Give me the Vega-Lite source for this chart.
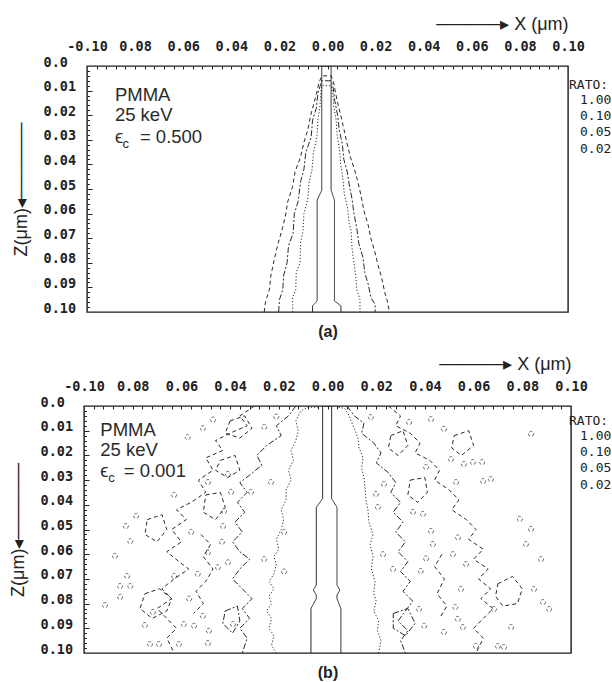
{
  "$schema": "https://vega.github.io/schema/vega-lite/v6.json",
  "background": "white",
  "padding": {"left": 8, "top": 14, "right": 0, "bottom": 0},
  "spacing": 94,
  "bounds": "flush",
  "center": true,
  "resolve": {"scale": {"x": "independent", "y": "independent", "strokeDash": "independent"}},
  "config": {
    "view": {"stroke": "#1a1a1a", "strokeWidth": 1.4},
    "axis": {
      "labelFont": "DejaVu Sans Mono", "labelFontWeight": "bold", "labelFontSize": 13.5, "labelColor": "#222",
      "tickColor": "#222", "tickWidth": 1, "domain": false, "grid": false, "labelFlush": false, "labelOverlap": false,
      "titleFont": "Liberation Sans", "titleFontWeight": "normal", "titleColor": "#222", "titleFontSize": 18
    }
  },
  "datasets": {
    "ca": [
      {"g":"s","r":"1.00","x":-0.0062,"z":0.1},{"g":"s","r":"1.00","x":-0.0062,"z":0.0975},{"g":"s","r":"1.00","x":-0.0043,"z":0.0955},{"g":"s","r":"1.00","x":-0.0043,"z":0.0545},{"g":"s","r":"1.00","x":-0.0024,"z":0.0505},{"g":"s","r":"1.00","x":-0.0024,"z":0},{"g":"s","r":"1.00","x":0.0015,"z":0},{"g":"s","r":"1.00","x":0.0015,"z":0.0505},{"g":"s","r":"1.00","x":0.0029,"z":0.0545},{"g":"s","r":"1.00","x":0.0029,"z":0.0955},{"g":"s","r":"1.00","x":0.0056,"z":0.0975},{"g":"s","r":"1.00","x":0.0056,"z":0.1},

      {"g":"d","r":"0.10","x":-0.0145,"z":0.1},{"g":"d","r":"0.10","x":-0.0145,"z":0.094},{"g":"d","r":"0.10","x":-0.0132,"z":0.091},{"g":"d","r":"0.10","x":-0.013,"z":0.084},{"g":"d","r":"0.10","x":-0.0114,"z":0.08},{"g":"d","r":"0.10","x":-0.0112,"z":0.072},{"g":"d","r":"0.10","x":-0.0102,"z":0.067},{"g":"d","r":"0.10","x":-0.0098,"z":0.06},{"g":"d","r":"0.10","x":-0.0082,"z":0.054},{"g":"d","r":"0.10","x":-0.0076,"z":0.047},{"g":"d","r":"0.10","x":-0.0064,"z":0.042},{"g":"d","r":"0.10","x":-0.0058,"z":0.035},{"g":"d","r":"0.10","x":-0.0044,"z":0.029},{"g":"d","r":"0.10","x":-0.004,"z":0.022},{"g":"d","r":"0.10","x":-0.0031,"z":0.016},{"g":"d","r":"0.10","x":-0.0028,"z":0.011},{"g":"d","r":"0.10","x":-0.0024,"z":0.008},
      {"g":"d","r":"0.10","x":0.0015,"z":0.008},{"g":"d","r":"0.10","x":0.0022,"z":0.011},{"g":"d","r":"0.10","x":0.0027,"z":0.017},{"g":"d","r":"0.10","x":0.0036,"z":0.022},{"g":"d","r":"0.10","x":0.004,"z":0.028},{"g":"d","r":"0.10","x":0.005,"z":0.034},{"g":"d","r":"0.10","x":0.0055,"z":0.04},{"g":"d","r":"0.10","x":0.0064,"z":0.046},{"g":"d","r":"0.10","x":0.007,"z":0.052},{"g":"d","r":"0.10","x":0.0084,"z":0.058},{"g":"d","r":"0.10","x":0.009,"z":0.064},{"g":"d","r":"0.10","x":0.0098,"z":0.067},{"g":"d","r":"0.10","x":0.0102,"z":0.074},{"g":"d","r":"0.10","x":0.011,"z":0.08},{"g":"d","r":"0.10","x":0.0118,"z":0.086},{"g":"d","r":"0.10","x":0.0122,"z":0.091},{"g":"d","r":"0.10","x":0.0135,"z":0.095},{"g":"d","r":"0.10","x":0.0135,"z":0.1},

      {"g":"dd","r":"0.05","x":-0.0203,"z":0.1},{"g":"dd","r":"0.05","x":-0.02,"z":0.095},{"g":"dd","r":"0.05","x":-0.0186,"z":0.091},{"g":"dd","r":"0.05","x":-0.0182,"z":0.085},{"g":"dd","r":"0.05","x":-0.0168,"z":0.08},{"g":"dd","r":"0.05","x":-0.0162,"z":0.073},{"g":"dd","r":"0.05","x":-0.0143,"z":0.068},{"g":"dd","r":"0.05","x":-0.0138,"z":0.06},{"g":"dd","r":"0.05","x":-0.0122,"z":0.055},{"g":"dd","r":"0.05","x":-0.0112,"z":0.047},{"g":"dd","r":"0.05","x":-0.0098,"z":0.042},{"g":"dd","r":"0.05","x":-0.009,"z":0.035},{"g":"dd","r":"0.05","x":-0.0068,"z":0.029},{"g":"dd","r":"0.05","x":-0.0062,"z":0.022},{"g":"dd","r":"0.05","x":-0.0046,"z":0.017},{"g":"dd","r":"0.05","x":-0.004,"z":0.011},{"g":"dd","r":"0.05","x":-0.003,"z":0.008},{"g":"dd","r":"0.05","x":-0.0024,"z":0.006},
      {"g":"dd","r":"0.05","x":0.0015,"z":0.006},{"g":"dd","r":"0.05","x":0.0024,"z":0.009},{"g":"dd","r":"0.05","x":0.003,"z":0.014},{"g":"dd","r":"0.05","x":0.0042,"z":0.02},{"g":"dd","r":"0.05","x":0.0049,"z":0.026},{"g":"dd","r":"0.05","x":0.0062,"z":0.032},{"g":"dd","r":"0.05","x":0.0068,"z":0.038},{"g":"dd","r":"0.05","x":0.0082,"z":0.043},{"g":"dd","r":"0.05","x":0.009,"z":0.048},{"g":"dd","r":"0.05","x":0.0102,"z":0.054},{"g":"dd","r":"0.05","x":0.011,"z":0.06},{"g":"dd","r":"0.05","x":0.0122,"z":0.066},{"g":"dd","r":"0.05","x":0.013,"z":0.072},{"g":"dd","r":"0.05","x":0.0148,"z":0.078},{"g":"dd","r":"0.05","x":0.0155,"z":0.084},{"g":"dd","r":"0.05","x":0.017,"z":0.089},{"g":"dd","r":"0.05","x":0.018,"z":0.094},{"g":"dd","r":"0.05","x":0.0198,"z":0.097},{"g":"dd","r":"0.05","x":0.0198,"z":0.1},

      {"g":"da","r":"0.02","x":-0.0263,"z":0.1},{"g":"da","r":"0.02","x":-0.0258,"z":0.096},{"g":"da","r":"0.02","x":-0.0242,"z":0.091},{"g":"da","r":"0.02","x":-0.0235,"z":0.085},{"g":"da","r":"0.02","x":-0.0222,"z":0.079},{"g":"da","r":"0.02","x":-0.0208,"z":0.073},{"g":"da","r":"0.02","x":-0.019,"z":0.067},{"g":"da","r":"0.02","x":-0.0175,"z":0.061},{"g":"da","r":"0.02","x":-0.0165,"z":0.055},{"g":"da","r":"0.02","x":-0.0145,"z":0.049},{"g":"da","r":"0.02","x":-0.0135,"z":0.043},{"g":"da","r":"0.02","x":-0.0112,"z":0.037},{"g":"da","r":"0.02","x":-0.0098,"z":0.031},{"g":"da","r":"0.02","x":-0.0082,"z":0.026},{"g":"da","r":"0.02","x":-0.007,"z":0.02},{"g":"da","r":"0.02","x":-0.0056,"z":0.015},{"g":"da","r":"0.02","x":-0.0045,"z":0.011},{"g":"da","r":"0.02","x":-0.0036,"z":0.007},{"g":"da","r":"0.02","x":-0.0024,"z":0.004},
      {"g":"da","r":"0.02","x":0.0015,"z":0.004},{"g":"da","r":"0.02","x":0.0024,"z":0.006},{"g":"da","r":"0.02","x":0.0032,"z":0.01},{"g":"da","r":"0.02","x":0.0042,"z":0.015},{"g":"da","r":"0.02","x":0.0055,"z":0.02},{"g":"da","r":"0.02","x":0.0069,"z":0.026},{"g":"da","r":"0.02","x":0.008,"z":0.031},{"g":"da","r":"0.02","x":0.0095,"z":0.037},{"g":"da","r":"0.02","x":0.0112,"z":0.042},{"g":"da","r":"0.02","x":0.0126,"z":0.047},{"g":"da","r":"0.02","x":0.014,"z":0.053},{"g":"da","r":"0.02","x":0.0152,"z":0.059},{"g":"da","r":"0.02","x":0.017,"z":0.065},{"g":"da","r":"0.02","x":0.018,"z":0.07},{"g":"da","r":"0.02","x":0.0198,"z":0.076},{"g":"da","r":"0.02","x":0.021,"z":0.081},{"g":"da","r":"0.02","x":0.0225,"z":0.086},{"g":"da","r":"0.02","x":0.0238,"z":0.092},{"g":"da","r":"0.02","x":0.025,"z":0.096},{"g":"da","r":"0.02","x":0.0257,"z":0.1}
    ],
    "cb": [
      {"g":"s","r":"1.00","x":-0.0068,"z":0.1},{"g":"s","r":"1.00","x":-0.0068,"z":0.082},{"g":"s","r":"1.00","x":-0.0046,"z":0.078},{"g":"s","r":"1.00","x":-0.0046,"z":0.0765},{"g":"s","r":"1.00","x":-0.0058,"z":0.0745},{"g":"s","r":"1.00","x":-0.0046,"z":0.0725},{"g":"s","r":"1.00","x":-0.0046,"z":0.041},{"g":"s","r":"1.00","x":-0.002,"z":0.0375},{"g":"s","r":"1.00","x":-0.002,"z":0},{"g":"s","r":"1.00","x":0.0017,"z":0},{"g":"s","r":"1.00","x":0.0017,"z":0.0375},{"g":"s","r":"1.00","x":0.0039,"z":0.041},{"g":"s","r":"1.00","x":0.0039,"z":0.0725},{"g":"s","r":"1.00","x":0.0051,"z":0.0745},{"g":"s","r":"1.00","x":0.0039,"z":0.0765},{"g":"s","r":"1.00","x":0.0039,"z":0.078},{"g":"s","r":"1.00","x":0.0055,"z":0.082},{"g":"s","r":"1.00","x":0.0055,"z":0.1},

      {"g":"dL","r":"0.10","x":-0.021,"z":0.1},{"g":"dL","r":"0.10","x":-0.023,"z":0.097},{"g":"dL","r":"0.10","x":-0.022,"z":0.093},{"g":"dL","r":"0.10","x":-0.024,"z":0.09},{"g":"dL","r":"0.10","x":-0.023,"z":0.086},{"g":"dL","r":"0.10","x":-0.025,"z":0.083},{"g":"dL","r":"0.10","x":-0.023,"z":0.08},{"g":"dL","r":"0.10","x":-0.024,"z":0.077},{"g":"dL","r":"0.10","x":-0.022,"z":0.074},{"g":"dL","r":"0.10","x":-0.024,"z":0.071},{"g":"dL","r":"0.10","x":-0.022,"z":0.068},{"g":"dL","r":"0.10","x":-0.021,"z":0.064},{"g":"dL","r":"0.10","x":-0.022,"z":0.061},{"g":"dL","r":"0.10","x":-0.02,"z":0.058},{"g":"dL","r":"0.10","x":-0.021,"z":0.054},{"g":"dL","r":"0.10","x":-0.019,"z":0.05},{"g":"dL","r":"0.10","x":-0.018,"z":0.046},{"g":"dL","r":"0.10","x":-0.019,"z":0.042},{"g":"dL","r":"0.10","x":-0.017,"z":0.038},{"g":"dL","r":"0.10","x":-0.017,"z":0.034},{"g":"dL","r":"0.10","x":-0.015,"z":0.03},{"g":"dL","r":"0.10","x":-0.016,"z":0.026},{"g":"dL","r":"0.10","x":-0.014,"z":0.022},{"g":"dL","r":"0.10","x":-0.015,"z":0.018},{"g":"dL","r":"0.10","x":-0.013,"z":0.014},{"g":"dL","r":"0.10","x":-0.012,"z":0.01},{"g":"dL","r":"0.10","x":-0.013,"z":0.006},{"g":"dL","r":"0.10","x":-0.011,"z":0.002},{"g":"dL","r":"0.10","x":-0.008,"z":0.0005},{"g":"dL","r":"0.10","x":-0.004,"z":0.0005},

      {"g":"dR","r":"0.10","x":0.0045,"z":0.0005},{"g":"dR","r":"0.10","x":0.007,"z":0.001},{"g":"dR","r":"0.10","x":0.009,"z":0.004},{"g":"dR","r":"0.10","x":0.0096,"z":0.006},{"g":"dR","r":"0.10","x":0.011,"z":0.009},{"g":"dR","r":"0.10","x":0.0125,"z":0.013},{"g":"dR","r":"0.10","x":0.013,"z":0.017},{"g":"dR","r":"0.10","x":0.0146,"z":0.021},{"g":"dR","r":"0.10","x":0.014,"z":0.025},{"g":"dR","r":"0.10","x":0.015,"z":0.029},{"g":"dR","r":"0.10","x":0.0155,"z":0.034},{"g":"dR","r":"0.10","x":0.0158,"z":0.038},{"g":"dR","r":"0.10","x":0.0166,"z":0.042},{"g":"dR","r":"0.10","x":0.017,"z":0.047},{"g":"dR","r":"0.10","x":0.0187,"z":0.052},{"g":"dR","r":"0.10","x":0.0175,"z":0.056},{"g":"dR","r":"0.10","x":0.0187,"z":0.061},{"g":"dR","r":"0.10","x":0.018,"z":0.066},{"g":"dR","r":"0.10","x":0.0195,"z":0.071},{"g":"dR","r":"0.10","x":0.019,"z":0.076},{"g":"dR","r":"0.10","x":0.02,"z":0.079},{"g":"dR","r":"0.10","x":0.019,"z":0.083},{"g":"dR","r":"0.10","x":0.021,"z":0.087},{"g":"dR","r":"0.10","x":0.0205,"z":0.091},{"g":"dR","r":"0.10","x":0.022,"z":0.095},{"g":"dR","r":"0.10","x":0.021,"z":0.1},

      {"g":"ddL","r":"0.05","x":-0.013,"z":0},{"g":"ddL","r":"0.05","x":-0.016,"z":0.004},{"g":"ddL","r":"0.05","x":-0.021,"z":0.008},{"g":"ddL","r":"0.05","x":-0.019,"z":0.012},{"g":"ddL","r":"0.05","x":-0.025,"z":0.016},{"g":"ddL","r":"0.05","x":-0.029,"z":0.02},{"g":"ddL","r":"0.05","x":-0.027,"z":0.024},{"g":"ddL","r":"0.05","x":-0.032,"z":0.028},{"g":"ddL","r":"0.05","x":-0.036,"z":0.031},{"g":"ddL","r":"0.05","x":-0.033,"z":0.035},{"g":"ddL","r":"0.05","x":-0.037,"z":0.039},{"g":"ddL","r":"0.05","x":-0.034,"z":0.043},{"g":"ddL","r":"0.05","x":-0.038,"z":0.047},{"g":"ddL","r":"0.05","x":-0.035,"z":0.051},{"g":"ddL","r":"0.05","x":-0.039,"z":0.055},{"g":"ddL","r":"0.05","x":-0.036,"z":0.059},{"g":"ddL","r":"0.05","x":-0.032,"z":0.062},{"g":"ddL","r":"0.05","x":-0.036,"z":0.066},{"g":"ddL","r":"0.05","x":-0.039,"z":0.07},{"g":"ddL","r":"0.05","x":-0.035,"z":0.074},{"g":"ddL","r":"0.05","x":-0.031,"z":0.078},{"g":"ddL","r":"0.05","x":-0.035,"z":0.082},{"g":"ddL","r":"0.05","x":-0.032,"z":0.086},{"g":"ddL","r":"0.05","x":-0.036,"z":0.09},{"g":"ddL","r":"0.05","x":-0.033,"z":0.094},{"g":"ddL","r":"0.05","x":-0.035,"z":0.1},
      {"g":"ddL2","r":"0.05","x":-0.042,"z":0.083},{"g":"ddL2","r":"0.05","x":-0.037,"z":0.081},{"g":"ddL2","r":"0.05","x":-0.036,"z":0.087},{"g":"ddL2","r":"0.05","x":-0.039,"z":0.092},{"g":"ddL2","r":"0.05","x":-0.043,"z":0.088},{"g":"ddL2","r":"0.05","x":-0.042,"z":0.083},

      {"g":"ddR","r":"0.05","x":0.008,"z":0},{"g":"ddR","r":"0.05","x":0.011,"z":0.004},{"g":"ddR","r":"0.05","x":0.015,"z":0.007},{"g":"ddR","r":"0.05","x":0.014,"z":0.011},{"g":"ddR","r":"0.05","x":0.019,"z":0.015},{"g":"ddR","r":"0.05","x":0.022,"z":0.019},{"g":"ddR","r":"0.05","x":0.02,"z":0.023},{"g":"ddR","r":"0.05","x":0.025,"z":0.027},{"g":"ddR","r":"0.05","x":0.028,"z":0.031},{"g":"ddR","r":"0.05","x":0.026,"z":0.035},{"g":"ddR","r":"0.05","x":0.03,"z":0.039},{"g":"ddR","r":"0.05","x":0.027,"z":0.043},{"g":"ddR","r":"0.05","x":0.031,"z":0.047},{"g":"ddR","r":"0.05","x":0.028,"z":0.051},{"g":"ddR","r":"0.05","x":0.032,"z":0.055},{"g":"ddR","r":"0.05","x":0.029,"z":0.059},{"g":"ddR","r":"0.05","x":0.033,"z":0.063},{"g":"ddR","r":"0.05","x":0.03,"z":0.067},{"g":"ddR","r":"0.05","x":0.034,"z":0.071},{"g":"ddR","r":"0.05","x":0.031,"z":0.075},{"g":"ddR","r":"0.05","x":0.035,"z":0.079},{"g":"ddR","r":"0.05","x":0.032,"z":0.083},{"g":"ddR","r":"0.05","x":0.029,"z":0.087},{"g":"ddR","r":"0.05","x":0.033,"z":0.091},{"g":"ddR","r":"0.05","x":0.03,"z":0.095},{"g":"ddR","r":"0.05","x":0.032,"z":0.1},
      {"g":"ddR2","r":"0.05","x":0.027,"z":0.084},{"g":"ddR2","r":"0.05","x":0.033,"z":0.082},{"g":"ddR2","r":"0.05","x":0.036,"z":0.088},{"g":"ddR2","r":"0.05","x":0.032,"z":0.093},{"g":"ddR2","r":"0.05","x":0.027,"z":0.09},{"g":"ddR2","r":"0.05","x":0.027,"z":0.084},

      {"g":"daL","r":"0.02","x":-0.03,"z":0},{"g":"daL","r":"0.02","x":-0.036,"z":0.004},{"g":"daL","r":"0.02","x":-0.033,"z":0.008},{"g":"daL","r":"0.02","x":-0.04,"z":0.011},{"g":"daL","r":"0.02","x":-0.046,"z":0.014},{"g":"daL","r":"0.02","x":-0.043,"z":0.018},{"g":"daL","r":"0.02","x":-0.05,"z":0.021},{"g":"daL","r":"0.02","x":-0.047,"z":0.026},{"g":"daL","r":"0.02","x":-0.053,"z":0.03},{"g":"daL","r":"0.02","x":-0.05,"z":0.035},{"g":"daL","r":"0.02","x":-0.056,"z":0.039},{"g":"daL","r":"0.02","x":-0.062,"z":0.042},{"g":"daL","r":"0.02","x":-0.058,"z":0.046},{"g":"daL","r":"0.02","x":-0.064,"z":0.05},{"g":"daL","r":"0.02","x":-0.06,"z":0.055},{"g":"daL","r":"0.02","x":-0.066,"z":0.059},{"g":"daL","r":"0.02","x":-0.061,"z":0.063},{"g":"daL","r":"0.02","x":-0.057,"z":0.066},{"g":"daL","r":"0.02","x":-0.063,"z":0.07},{"g":"daL","r":"0.02","x":-0.068,"z":0.074},{"g":"daL","r":"0.02","x":-0.064,"z":0.078},{"g":"daL","r":"0.02","x":-0.07,"z":0.082},{"g":"daL","r":"0.02","x":-0.066,"z":0.086},{"g":"daL","r":"0.02","x":-0.062,"z":0.09},{"g":"daL","r":"0.02","x":-0.066,"z":0.094},{"g":"daL","r":"0.02","x":-0.063,"z":0.1},
      {"g":"daL2","r":"0.02","x":-0.075,"z":0.076},{"g":"daL2","r":"0.02","x":-0.069,"z":0.074},{"g":"daL2","r":"0.02","x":-0.064,"z":0.078},{"g":"daL2","r":"0.02","x":-0.066,"z":0.083},{"g":"daL2","r":"0.02","x":-0.072,"z":0.086},{"g":"daL2","r":"0.02","x":-0.077,"z":0.082},{"g":"daL2","r":"0.02","x":-0.075,"z":0.076},
      {"g":"daL3","r":"0.02","x":-0.05,"z":0.036},{"g":"daL3","r":"0.02","x":-0.044,"z":0.035},{"g":"daL3","r":"0.02","x":-0.042,"z":0.041},{"g":"daL3","r":"0.02","x":-0.046,"z":0.046},{"g":"daL3","r":"0.02","x":-0.051,"z":0.043},{"g":"daL3","r":"0.02","x":-0.05,"z":0.036},
      {"g":"daL4","r":"0.02","x":-0.052,"z":0.052},{"g":"daL4","r":"0.02","x":-0.048,"z":0.056},{"g":"daL4","r":"0.02","x":-0.051,"z":0.061},{"g":"daL4","r":"0.02","x":-0.047,"z":0.066},{"g":"daL4","r":"0.02","x":-0.05,"z":0.071},{"g":"daL4","r":"0.02","x":-0.054,"z":0.075},{"g":"daL4","r":"0.02","x":-0.051,"z":0.08},{"g":"daL4","r":"0.02","x":-0.055,"z":0.084},
      {"g":"daL5","r":"0.02","x":-0.04,"z":0.006},{"g":"daL5","r":"0.02","x":-0.034,"z":0.004},{"g":"daL5","r":"0.02","x":-0.031,"z":0.009},{"g":"daL5","r":"0.02","x":-0.036,"z":0.013},{"g":"daL5","r":"0.02","x":-0.042,"z":0.011},{"g":"daL5","r":"0.02","x":-0.04,"z":0.006},
      {"g":"daL6","r":"0.02","x":-0.044,"z":0.022},{"g":"daL6","r":"0.02","x":-0.038,"z":0.02},{"g":"daL6","r":"0.02","x":-0.036,"z":0.026},{"g":"daL6","r":"0.02","x":-0.041,"z":0.029},{"g":"daL6","r":"0.02","x":-0.046,"z":0.026},{"g":"daL6","r":"0.02","x":-0.044,"z":0.022},
      {"g":"daL7","r":"0.02","x":-0.074,"z":0.046},{"g":"daL7","r":"0.02","x":-0.068,"z":0.044},{"g":"daL7","r":"0.02","x":-0.066,"z":0.05},{"g":"daL7","r":"0.02","x":-0.07,"z":0.055},{"g":"daL7","r":"0.02","x":-0.075,"z":0.052},{"g":"daL7","r":"0.02","x":-0.074,"z":0.046},

      {"g":"daR","r":"0.02","x":0.025,"z":0},{"g":"daR","r":"0.02","x":0.03,"z":0.004},{"g":"daR","r":"0.02","x":0.028,"z":0.008},{"g":"daR","r":"0.02","x":0.034,"z":0.011},{"g":"daR","r":"0.02","x":0.038,"z":0.015},{"g":"daR","r":"0.02","x":0.036,"z":0.019},{"g":"daR","r":"0.02","x":0.042,"z":0.022},{"g":"daR","r":"0.02","x":0.046,"z":0.026},{"g":"daR","r":"0.02","x":0.044,"z":0.03},{"g":"daR","r":"0.02","x":0.05,"z":0.034},{"g":"daR","r":"0.02","x":0.054,"z":0.038},{"g":"daR","r":"0.02","x":0.051,"z":0.042},{"g":"daR","r":"0.02","x":0.057,"z":0.046},{"g":"daR","r":"0.02","x":0.061,"z":0.05},{"g":"daR","r":"0.02","x":0.058,"z":0.054},{"g":"daR","r":"0.02","x":0.064,"z":0.058},{"g":"daR","r":"0.02","x":0.06,"z":0.062},{"g":"daR","r":"0.02","x":0.066,"z":0.066},{"g":"daR","r":"0.02","x":0.062,"z":0.07},{"g":"daR","r":"0.02","x":0.067,"z":0.074},{"g":"daR","r":"0.02","x":0.063,"z":0.078},{"g":"daR","r":"0.02","x":0.068,"z":0.082},{"g":"daR","r":"0.02","x":0.064,"z":0.086},{"g":"daR","r":"0.02","x":0.06,"z":0.09},{"g":"daR","r":"0.02","x":0.064,"z":0.094},{"g":"daR","r":"0.02","x":0.061,"z":0.1},
      {"g":"daR2","r":"0.02","x":0.07,"z":0.072},{"g":"daR2","r":"0.02","x":0.076,"z":0.069},{"g":"daR2","r":"0.02","x":0.08,"z":0.074},{"g":"daR2","r":"0.02","x":0.078,"z":0.08},{"g":"daR2","r":"0.02","x":0.072,"z":0.081},{"g":"daR2","r":"0.02","x":0.069,"z":0.077},{"g":"daR2","r":"0.02","x":0.07,"z":0.072},
      {"g":"daR3","r":"0.02","x":0.034,"z":0.03},{"g":"daR3","r":"0.02","x":0.04,"z":0.029},{"g":"daR3","r":"0.02","x":0.041,"z":0.035},{"g":"daR3","r":"0.02","x":0.037,"z":0.039},{"g":"daR3","r":"0.02","x":0.033,"z":0.036},{"g":"daR3","r":"0.02","x":0.034,"z":0.03},
      {"g":"daR4","r":"0.02","x":0.047,"z":0.06},{"g":"daR4","r":"0.02","x":0.044,"z":0.065},{"g":"daR4","r":"0.02","x":0.048,"z":0.07},{"g":"daR4","r":"0.02","x":0.045,"z":0.076},{"g":"daR4","r":"0.02","x":0.049,"z":0.081},{"g":"daR4","r":"0.02","x":0.046,"z":0.086},
      {"g":"daR5","r":"0.02","x":0.026,"z":0.012},{"g":"daR5","r":"0.02","x":0.031,"z":0.01},{"g":"daR5","r":"0.02","x":0.033,"z":0.016},{"g":"daR5","r":"0.02","x":0.029,"z":0.02},{"g":"daR5","r":"0.02","x":0.025,"z":0.017},{"g":"daR5","r":"0.02","x":0.026,"z":0.012},
      {"g":"daR6","r":"0.02","x":0.052,"z":0.012},{"g":"daR6","r":"0.02","x":0.058,"z":0.01},{"g":"daR6","r":"0.02","x":0.06,"z":0.016},{"g":"daR6","r":"0.02","x":0.055,"z":0.02},{"g":"daR6","r":"0.02","x":0.051,"z":0.017},{"g":"daR6","r":"0.02","x":0.052,"z":0.012}
    ],
    "pb": [
      {"x":-0.0828,"z":0.0486},{"x":-0.0786,"z":0.0445},{"x":-0.081,"z":0.0547},{"x":-0.0873,"z":0.0607},{"x":-0.0823,"z":0.0688},{"x":-0.0852,"z":0.0729},{"x":-0.081,"z":0.0729},{"x":-0.0852,"z":0.0773},{"x":-0.0914,"z":0.0806},{"x":-0.075,"z":0.0887},{"x":-0.0717,"z":0.0834},{"x":-0.0729,"z":0.0964},{"x":-0.0692,"z":0.0964},{"x":-0.061,"z":0.0964},{"x":-0.059,"z":0.0883},{"x":-0.0548,"z":0.089},{"x":-0.0512,"z":0.085},{"x":-0.0487,"z":0.091},{"x":-0.0491,"z":0.096},{"x":-0.0568,"z":0.078},{"x":-0.063,"z":0.0688},{"x":-0.0533,"z":0.068},{"x":-0.0491,"z":0.0593},{"x":-0.045,"z":0.0653},{"x":-0.0409,"z":0.0633},{"x":-0.0429,"z":0.0486},{"x":-0.0433,"z":0.055},{"x":-0.0388,"z":0.0883},{"x":-0.056,"z":0.051},{"x":-0.026,"z":0.062},{"x":-0.0178,"z":0.051},{"x":-0.0178,"z":0.067},
      {"x":-0.0574,"z":0.0126},{"x":-0.0512,"z":0.009},{"x":-0.047,"z":0.0055},{"x":-0.0409,"z":0.0275},{"x":-0.0491,"z":0.0308},{"x":-0.0396,"z":0.0348},{"x":-0.0314,"z":0.0348},{"x":-0.0232,"z":0.0308},{"x":-0.026,"z":0.0085},{"x":-0.021,"z":0.0043},{"x":-0.063,"z":0.036},{"x":-0.0425,"z":0.0425},
      {"x":0.0178,"z":0.0045},{"x":0.0335,"z":0.0065},{"x":0.0425,"z":0.0053},{"x":0.0478,"z":0.0093},{"x":0.0836,"z":0.0113},{"x":0.0405,"z":0.0247},{"x":0.0507,"z":0.0215},{"x":0.056,"z":0.0235},{"x":0.0597,"z":0.0227},{"x":0.0635,"z":0.0227},{"x":0.0528,"z":0.0308},{"x":0.0639,"z":0.0304},{"x":0.0671,"z":0.0296},{"x":0.0207,"z":0.0409},{"x":0.0232,"z":0.0316},{"x":0.0199,"z":0.0356},{"x":0.0351,"z":0.0429},
      {"x":0.0392,"z":0.0437},{"x":0.0425,"z":0.0506},{"x":0.0433,"z":0.0559},{"x":0.0515,"z":0.06},{"x":0.0569,"z":0.064},{"x":0.0536,"z":0.0532},{"x":0.079,"z":0.0457},{"x":0.0836,"z":0.0498},{"x":0.0815,"z":0.0559},{"x":0.0877,"z":0.062},{"x":0.0848,"z":0.0741},{"x":0.0885,"z":0.0794},{"x":0.091,"z":0.0822},{"x":0.0754,"z":0.0895},{"x":0.07,"z":0.0972},{"x":0.0725,"z":0.0976},{"x":0.0684,"z":0.0822},{"x":0.0548,"z":0.0741},{"x":0.0525,"z":0.0814},{"x":0.0535,"z":0.0862},{"x":0.0478,"z":0.0915},{"x":0.0556,"z":0.0895},{"x":0.061,"z":0.0972},{"x":0.0397,"z":0.089},{"x":0.0376,"z":0.0822},{"x":0.0383,"z":0.0668},{"x":0.0405,"z":0.0617},{"x":0.0269,"z":0.066},{"x":0.0228,"z":0.06}
    ],
    "ta": [
      {"t":"PMMA","x":-0.0884,"z":0.0142},
      {"t":"25 keV","x":-0.0884,"z":0.0225},
      {"t":"ϵ","x":-0.0884,"z":0.0313},
      {"t":"=  0.500","x":-0.078,"z":0.0313}
    ],
    "sa": [{"t":"c","x":-0.0852,"z":0.0335}],
    "tb": [
      {"t":"PMMA","x":-0.0933,"z":0.0122},
      {"t":"25 keV","x":-0.0933,"z":0.0202},
      {"t":"ϵ","x":-0.0933,"z":0.0287},
      {"t":"=  0.001","x":-0.0837,"z":0.0287}
    ],
    "sb": [{"t":"c","x":-0.09,"z":0.0306}]
  },
  "vconcat": [
    {
      "width": 481,
      "height": 246,
      "resolve": {"axis": {"x": "independent", "y": "independent"}},
      "layer": [
        {
          "data": {"name": "ca"},
          "mark": {"type": "line", "strokeWidth": 1, "color": "#2a2a2a", "clip": true},
          "encoding": {
            "x": {"field": "x", "type": "quantitative", "scale": {"domain": [-0.1, 0.1], "nice": false, "zero": false},
              "axis": {"orient": "top", "values": [-0.1, -0.08, -0.06, -0.04, -0.02, 0, 0.02, 0.04, 0.06, 0.08, 0.1],
                "labelExpr": "datum.value < -0.099 ? '-0.10' : format(abs(datum.value), '.2f')",
                "tickSize": -4, "tickOpacity": 0, "labelPadding": 17,
                "title": "─────▸ X (μm)", "titleAnchor": "end", "titlePadding": 6}},
            "y": {"field": "z", "type": "quantitative", "scale": {"domain": [0, 0.1], "nice": false, "zero": false, "reverse": true},
              "axis": {"orient": "left", "values": [0, 0.01, 0.02, 0.03, 0.04, 0.05, 0.06, 0.07, 0.08, 0.09, 0.1],
                "labelExpr": "datum.value == 0 ? '0.0' : format(datum.value, '.2f')",
                "labelAlign": "left", "labelBaseline": "middle", "labelOffset": -4,
                "tickSize": -4, "tickOpacity": 0, "labelPadding": 48,
                "title": "Z(μm)◂──────", "titlePadding": 13}},
            "detail": {"field": "g"},
            "order": {"value": null},
            "strokeDash": {"field": "r", "type": "nominal",
              "scale": {"domain": ["1.00", "0.10", "0.05", "0.02"], "range": [[1, 0], [1.2, 2], [6, 2, 2, 2], [4, 3]]},
              "legend": {"title": "RATO:", "orient": "none", "legendX": 482, "legendY": 13,
                "symbolOpacity": 0, "symbolStrokeWidth": 0, "symbolSize": 0, "labelOffset": -2, "rowPadding": 2.4, "titlePadding": 1,
                "labelFont": "DejaVu Sans Mono", "titleFont": "DejaVu Sans Mono", "labelFontSize": 13, "titleFontSize": 13,
                "titleFontWeight": "normal", "labelColor": "#222", "titleColor": "#222", "padding": 0}}
          }
        },
        {
          "data": {"name": "ta"},
          "mark": {"type": "text", "align": "left", "baseline": "alphabetic", "font": "Liberation Sans", "fontSize": 18.5, "color": "#2a2a2a"},
          "encoding": {
            "x": {"field": "x", "type": "quantitative", "scale": {"domain": [-0.1, 0.1], "nice": false, "zero": false},
              "axis": {"orient": "bottom", "labels": false, "ticks": false, "title": "(a)", "titleFontWeight": "bold", "titleFontSize": 16, "titlePadding": 11}},
            "y": {"field": "z", "type": "quantitative", "scale": {"domain": [0, 0.1], "nice": false, "zero": false, "reverse": true},
              "axis": {"orient": "left", "labels": false, "tickSize": 5, "offset": -5, "title": null,
                "values": [0.01, 0.02, 0.03, 0.04, 0.05, 0.06, 0.07, 0.08, 0.09]}},
            "text": {"field": "t"}
          }
        },
        {
          "data": {"name": "sa"},
          "mark": {"type": "text", "align": "left", "baseline": "alphabetic", "font": "Liberation Sans", "fontSize": 13, "color": "#2a2a2a"},
          "encoding": {
            "x": {"field": "x", "type": "quantitative", "scale": {"domain": [-0.1, 0.1], "nice": false, "zero": false},
              "axis": {"orient": "top", "labels": false, "tickSize": 3, "offset": -3, "title": null,
                "values": [-0.096, -0.092, -0.088, -0.084, -0.08, -0.076, -0.072, -0.068, -0.064, -0.06, -0.056, -0.052, -0.048, -0.044, -0.04, -0.036, -0.032, -0.028, -0.024, -0.02, -0.016, -0.012, -0.008, -0.004, 0, 0.004, 0.008, 0.012, 0.016, 0.02, 0.024, 0.028, 0.032, 0.036, 0.04, 0.044, 0.048, 0.052, 0.056, 0.06, 0.064, 0.068, 0.072, 0.076, 0.08, 0.084, 0.088, 0.092, 0.096]}},
            "y": {"field": "z", "type": "quantitative", "scale": {"domain": [0, 0.1], "nice": false, "zero": false, "reverse": true},
              "axis": {"orient": "left", "labels": false, "tickSize": 2.5, "offset": -2.5, "title": null,
                "values": [0.002, 0.004, 0.006, 0.008, 0.012, 0.014, 0.016, 0.018, 0.022, 0.024, 0.026, 0.028, 0.032, 0.034, 0.036, 0.038, 0.042, 0.044, 0.046, 0.048, 0.052, 0.054, 0.056, 0.058, 0.062, 0.064, 0.066, 0.068, 0.072, 0.074, 0.076, 0.078, 0.082, 0.084, 0.086, 0.088, 0.092, 0.094, 0.096, 0.098]}},
            "text": {"field": "t"}
          }
        }
      ]
    },
    {
      "width": 487,
      "height": 247,
      "resolve": {"axis": {"x": "independent", "y": "independent"}},
      "layer": [
        {
          "data": {"name": "cb"},
          "mark": {"type": "line", "strokeWidth": 1, "color": "#2a2a2a", "clip": true},
          "encoding": {
            "x": {"field": "x", "type": "quantitative", "scale": {"domain": [-0.1, 0.1], "nice": false, "zero": false},
              "axis": {"orient": "top", "values": [-0.1, -0.08, -0.06, -0.04, -0.02, 0, 0.02, 0.04, 0.06, 0.08, 0.1],
                "labelExpr": "datum.value < -0.099 ? '-0.10' : format(abs(datum.value), '.2f')",
                "tickSize": -4, "tickOpacity": 0, "labelPadding": 17,
                "title": "─────▸ X (μm)", "titleAnchor": "end", "titlePadding": 6}},
            "y": {"field": "z", "type": "quantitative", "scale": {"domain": [0, 0.1], "nice": false, "zero": false, "reverse": true},
              "axis": {"orient": "left", "values": [0, 0.01, 0.02, 0.03, 0.04, 0.05, 0.06, 0.07, 0.08, 0.09, 0.1],
                "labelExpr": "datum.value == 0 ? '0.0' : format(datum.value, '.2f')",
                "labelAlign": "left", "labelBaseline": "middle", "labelOffset": -4,
                "tickSize": -4, "tickOpacity": 0, "labelPadding": 48,
                "title": "Z(μm)◂──────", "titlePadding": 13}},
            "detail": {"field": "g"},
            "order": {"value": null},
            "strokeDash": {"field": "r", "type": "nominal",
              "scale": {"domain": ["1.00", "0.10", "0.05", "0.02"], "range": [[1, 0], [1.2, 2], [6, 2, 2, 2], [4, 3]]},
              "legend": {"title": "RATO:", "orient": "none", "legendX": 485, "legendY": 9,
                "symbolOpacity": 0, "symbolStrokeWidth": 0, "symbolSize": 0, "labelOffset": -2, "rowPadding": 2.4, "titlePadding": 1,
                "labelFont": "DejaVu Sans Mono", "titleFont": "DejaVu Sans Mono", "labelFontSize": 13, "titleFontSize": 13,
                "titleFontWeight": "normal", "labelColor": "#222", "titleColor": "#222", "padding": 0}}
          }
        },
        {
          "data": {"name": "pb"},
          "mark": {"type": "point", "shape": "circle", "size": 26, "filled": false, "strokeWidth": 1, "color": "#2a2a2a", "strokeDash": [3, 2], "clip": true},
          "encoding": {
            "x": {"field": "x", "type": "quantitative", "scale": {"domain": [-0.1, 0.1], "nice": false, "zero": false}, "axis": null},
            "y": {"field": "z", "type": "quantitative", "scale": {"domain": [0, 0.1], "nice": false, "zero": false, "reverse": true},
              "axis": {"orient": "left", "labels": false, "tickSize": 5, "offset": -5, "title": null,
                "values": [0.01, 0.02, 0.03, 0.04, 0.05, 0.06, 0.07, 0.08, 0.09]}}
          }
        },
        {
          "data": {"name": "tb"},
          "mark": {"type": "text", "align": "left", "baseline": "alphabetic", "font": "Liberation Sans", "fontSize": 18.5, "color": "#2a2a2a"},
          "encoding": {
            "x": {"field": "x", "type": "quantitative", "scale": {"domain": [-0.1, 0.1], "nice": false, "zero": false},
              "axis": {"orient": "bottom", "labels": false, "ticks": false, "title": "(b)", "titleFontWeight": "bold", "titleFontSize": 16, "titlePadding": 11}},
            "y": {"field": "z", "type": "quantitative", "scale": {"domain": [0, 0.1], "nice": false, "zero": false, "reverse": true}, "axis": null},
            "text": {"field": "t"}
          }
        },
        {
          "data": {"name": "sb"},
          "mark": {"type": "text", "align": "left", "baseline": "alphabetic", "font": "Liberation Sans", "fontSize": 13, "color": "#2a2a2a"},
          "encoding": {
            "x": {"field": "x", "type": "quantitative", "scale": {"domain": [-0.1, 0.1], "nice": false, "zero": false},
              "axis": {"orient": "top", "labels": false, "tickSize": 3, "offset": -3, "title": null,
                "values": [-0.096, -0.092, -0.088, -0.084, -0.08, -0.076, -0.072, -0.068, -0.064, -0.06, -0.056, -0.052, -0.048, -0.044, -0.04, -0.036, -0.032, -0.028, -0.024, -0.02, -0.016, -0.012, -0.008, -0.004, 0, 0.004, 0.008, 0.012, 0.016, 0.02, 0.024, 0.028, 0.032, 0.036, 0.04, 0.044, 0.048, 0.052, 0.056, 0.06, 0.064, 0.068, 0.072, 0.076, 0.08, 0.084, 0.088, 0.092, 0.096]}},
            "y": {"field": "z", "type": "quantitative", "scale": {"domain": [0, 0.1], "nice": false, "zero": false, "reverse": true},
              "axis": {"orient": "left", "labels": false, "tickSize": 2.5, "offset": -2.5, "title": null,
                "values": [0.002, 0.004, 0.006, 0.008, 0.012, 0.014, 0.016, 0.018, 0.022, 0.024, 0.026, 0.028, 0.032, 0.034, 0.036, 0.038, 0.042, 0.044, 0.046, 0.048, 0.052, 0.054, 0.056, 0.058, 0.062, 0.064, 0.066, 0.068, 0.072, 0.074, 0.076, 0.078, 0.082, 0.084, 0.086, 0.088, 0.092, 0.094, 0.096, 0.098]}},
            "text": {"field": "t"}
          }
        }
      ]
    }
  ]
}
